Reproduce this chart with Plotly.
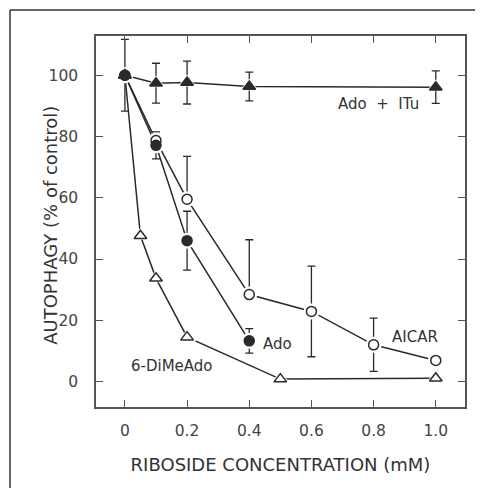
import plotly.graph_objects as go

# Data
ado_itu_x = [0, 0.1, 0.2, 0.4, 1.0]
ado_itu_y = [100, 97.4, 97.6, 96.3, 96.1]
ado_itu_err = [0, 6.5, 7.0, 4.7, 5.3]

ado_x = [0, 0.1, 0.2, 0.4]
ado_y = [100, 77.1, 46.0, 13.3]
ado_err = [11.7, 4.4, 9.6, 4.0]

aicar_x = [0, 0.1, 0.2, 0.4, 0.6, 0.8, 1.0]
aicar_y = [100, 78.7, 59.5, 28.4, 22.9, 12.0, 6.9]
aicar_err_plus = [0, 0, 14.0, 17.9, 14.8, 8.7, 0]
aicar_err_minus = [0, 0, 0, 0, 14.8, 8.7, 0]

dime_x = [0, 0.05, 0.1, 0.2, 0.5, 1.0]
dime_y = [100, 47.6, 33.7, 14.5, 0.8, 1.1]

x_ticks = [0, 0.2, 0.4, 0.6, 0.8, 1.0]
x_tick_labels = ["0", "0.2", "0.4", "0.6", "0.8", "1.0"]
y_ticks = [0, 20, 40, 60, 80, 100]

labels = [
    ("Ado&nbsp; +&nbsp; ITu", 0.815, 90.6),
    ("AICAR", 0.932, 14.6),
    ("Ado", 0.49, 12.3),
    ("6-DiMeAdo", 0.153, 5.2),
]

x_title = "RIBOSIDE CONCENTRATION (mM)"
y_title = "AUTOPHAGY (% of control)"

FONT = "DejaVu Sans, Liberation Sans, Arial"
INK = "#2a2a2a"
GREY = "#555555"

fig = go.Figure()

series = [
    (aicar_x, aicar_y, dict(type="data", array=aicar_err_plus, arrayminus=aicar_err_minus, symmetric=False), "circle-open", "white"),
    (ado_x, ado_y, dict(type="data", array=ado_err), "circle", INK),
    (dime_x, dime_y, None, "triangle-up-open", "white"),
    (ado_itu_x, ado_itu_y, dict(type="data", array=ado_itu_err), "triangle-up", INK),
]

# lines + error bars
for xs, ys, err, sym, fill in series:
    e = None
    if err is not None:
        e = dict(err, color=INK, thickness=1.3, width=4)
    fig.add_trace(go.Scatter(x=xs, y=ys, mode="lines", line=dict(color=INK, width=1.5),
                             error_y=e, showlegend=False, hoverinfo="skip"))
# white halos to create gaps between lines and markers
for xs, ys, err, sym, fill in series:
    fig.add_trace(go.Scatter(x=xs, y=ys, mode="markers",
                             marker=dict(symbol="circle" if "circle" in sym else "triangle-up",
                                         size=16, color="white", line=dict(width=0)),
                             showlegend=False, hoverinfo="skip"))
# markers
for xs, ys, err, sym, fill in series:
    base = sym.replace("-open", "")
    fig.add_trace(go.Scatter(x=xs, y=ys, mode="markers",
                             marker=dict(symbol=base, size=10 if "circle" in sym else 11,
                                         color=fill, line=dict(color=INK, width=1.5)),
                             showlegend=False))

for text, x, y in labels:
    fig.add_annotation(x=x, y=y, text=text, showarrow=False,
                       font=dict(family=FONT, size=15, color="#333333"))

# y-axis title placed as rotated text
fig.add_annotation(xref="paper", yref="paper", x=-0.157, y=0.49, text=y_title,
                   textangle=-90, showarrow=False,
                   font=dict(family=FONT, size=18, color="#333333"))

# outer frame (top and left edges)
fig.add_shape(type="line", xref="paper", yref="paper", x0=-0.233, y0=1.07, x1=1.2, y1=1.07,
              line=dict(color="#333333", width=1.5))
fig.add_shape(type="line", xref="paper", yref="paper", x0=-0.233, y0=1.07, x1=-0.233, y1=-0.3,
              line=dict(color="#333333", width=1.5))

axis_common = dict(showgrid=False, zeroline=False, showline=True, linecolor=GREY, linewidth=1.5,
                   mirror="ticks", ticks="inside", ticklen=7, tickwidth=1.3, tickcolor=GREY,
                   automargin=False,
                   tickfont=dict(family=FONT, size=15.5, color="#444444"))

fig.update_xaxes(range=[-0.093, 1.094], tickvals=x_ticks, ticktext=x_tick_labels,
                 ticklabelstandoff=9,
                 title=dict(text=x_title, standoff=19,
                            font=dict(family=FONT, size=18, color="#333333")),
                 **axis_common)
fig.update_yaxes(range=[-8.3, 112.8], tickvals=y_ticks, ticklabelstandoff=13,
                 **axis_common)

fig.update_layout(width=475, height=480, margin=dict(l=88, r=18, t=28, b=81),
                  plot_bgcolor="white", paper_bgcolor="white")

fig.write_html("out.html")
